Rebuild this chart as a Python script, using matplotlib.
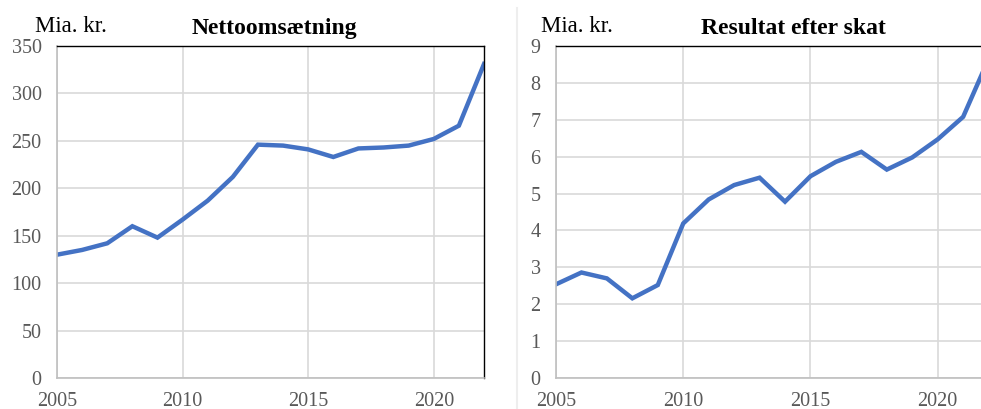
import matplotlib.pyplot as plt
from matplotlib.lines import Line2D

years = list(range(2005, 2023))

# Nettoomsætning, mia. kr.
omsaetning = [130, 135, 142, 160, 148, 167, 187, 212, 246, 245,
              241, 233, 242, 243, 245, 252, 266, 331]

# Resultat efter skat, mia. kr.
resultat = [2.54, 2.86, 2.70, 2.16, 2.52, 4.19, 4.84, 5.23, 5.43, 4.78,
            5.47, 5.86, 6.13, 5.65, 5.98, 6.47, 7.08, 8.65]

left_ticks = [0, 50, 100, 150, 200, 250, 300, 350]
right_ticks = [0, 1, 2, 3, 4, 5, 6, 7, 8, 9]
x_ticks = [2005, 2010, 2015, 2020]

BLUE = "#4472C4"
GRID = "#d9d9d9"
TICK_COLOR = "#595959"

plt.rcParams["font.family"] = ["Liberation Serif", "DejaVu Serif"]

W, H = 981, 409
fig = plt.figure(figsize=(W / 100, H / 100), dpi=100)


def px_axes(x0, x1, y_top, y_bot):
    return fig.add_axes([x0 / W, 1 - y_bot / H, (x1 - x0) / W, (y_bot - y_top) / H])


def style_axes(ax, yticks, ymax):
    ax.set_xlim(2005, 2022)
    ax.set_ylim(0, ymax)
    ax.set_xticks(x_ticks)
    ax.set_yticks(yticks)
    ax.grid(True, color=GRID, linewidth=1.2)
    ax.set_axisbelow(True)
    ax.tick_params(length=0, labelsize=14.5, colors=TICK_COLOR)
    ax.tick_params(axis="y", pad=11)
    ax.tick_params(axis="x", pad=10)
    for side in ("left", "bottom"):
        ax.spines[side].set_color("#bfbfbf")
        ax.spines[side].set_linewidth(1.2)
    for side in ("top", "right"):
        ax.spines[side].set_color("black")
        ax.spines[side].set_linewidth(1.0)


ax1 = px_axes(57, 484, 46, 378)
ax1.plot(years, omsaetning, color=BLUE, linewidth=3.2, solid_joinstyle="miter")
style_axes(ax1, left_ticks, 350)

ax2 = px_axes(556, 988.6, 46, 378)
ax2.plot(years, resultat, color=BLUE, linewidth=3.2, solid_joinstyle="miter")
style_axes(ax2, right_ticks, 9)

# units and titles
fig.text(35 / W, 1 - 32 / H, "Mia. kr.", fontsize=16.5, ha="left", va="baseline")
fig.text(274 / W, 1 - 34 / H, "Nettoomsætning", fontsize=17, fontweight="bold",
         ha="center", va="baseline")
fig.text(541 / W, 1 - 32 / H, "Mia. kr.", fontsize=16.5, ha="left", va="baseline")
fig.text(793 / W, 1 - 34 / H, "Resultat efter skat", fontsize=17, fontweight="bold",
         ha="center", va="baseline")

# light separator between the two charts
fig.add_artist(Line2D([517 / W, 517 / W], [0, 1 - 8 / H], transform=fig.transFigure,
                      color="#eeeeee", linewidth=1.5))

fig.savefig("out.png", dpi=100)
